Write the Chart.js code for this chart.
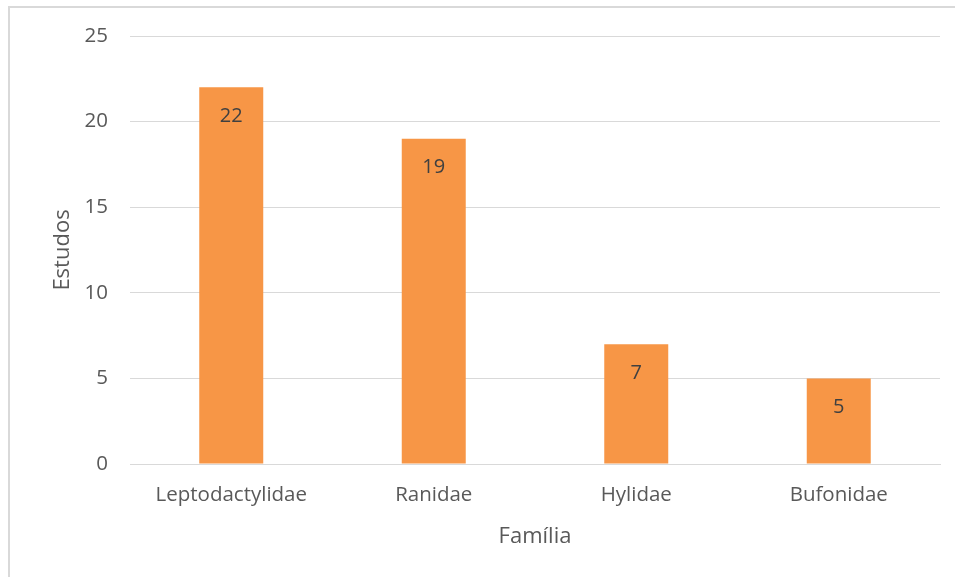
<!DOCTYPE html>
<html>
<head>
<meta charset="utf-8">
<script src="https://cdn.jsdelivr.net/npm/chart.js@4.4.1/dist/chart.umd.min.js"></script>
<style>
  html, body { margin: 0; padding: 0; background: #fff; }
  .frame {
    position: absolute; left: 8px; top: 6px; width: 960px; height: 600px;
    border-top: 2px solid #d9d9d9; border-left: 2px solid #d9d9d9;
  }
  .wrap { position: absolute; left: 0; top: 0; width: 955px; height: 577px; }
</style>
</head>
<body>
<div class="frame"></div>
<div class="wrap"><canvas id="chart"></canvas></div>
<script>
// Estudos por família de anuros
const familias = ['Leptodactylidae', 'Ranidae', 'Hylidae', 'Bufonidae'];
const estudos = [22, 19, 7, 5];
const yTicks = [0, 5, 10, 15, 20, 25];

const textColor = '#595959';
const fontFamily = '"Open Sans", sans-serif';

// value labels just inside the top of each bar
const barLabels = {
    id: 'barLabels',
    afterDatasetsDraw(chart) {
        const { ctx } = chart;
        const meta = chart.getDatasetMeta(0);
        ctx.save();
        ctx.font = '20px ' + fontFamily;
        ctx.fillStyle = '#404040';
        ctx.textAlign = 'center';
        ctx.textBaseline = 'middle';
        meta.data.forEach((bar, i) => {
            ctx.fillText(String(estudos[i]), bar.x, bar.y + 29);
        });
        ctx.restore();
    }
};

new Chart(document.getElementById('chart'), {
    type: 'bar',
    data: {
        labels: familias,
        datasets: [{
            data: estudos,
            backgroundColor: '#f79646',
            borderWidth: 0,
            categoryPercentage: 1,
            barPercentage: 0.316
        }]
    },
    options: {
        responsive: true,
        maintainAspectRatio: false,
        animation: false,
        layout: { padding: { left: 50, right: 15, top: 36, bottom: 27 } },
        plugins: { legend: { display: false }, tooltip: { enabled: false } },
        scales: {
            x: {
                grid: { display: false, drawTicks: false },
                border: { color: '#d9d9d9', width: 1 },
                ticks: { color: textColor, font: { family: fontFamily, size: 20.5 }, padding: 19, maxRotation: 0 },
                title: { display: true, text: 'Família', color: textColor, font: { family: fontFamily, size: 22 }, padding: 0 },
                afterFit(scale) { scale.height = 86; }
            },
            y: {
                min: 0,
                max: 25,
                afterBuildTicks(scale) { scale.ticks = yTicks.map(v => ({ value: v })); },
                grid: { color: '#d9d9d9', drawTicks: false },
                border: { display: false },
                ticks: { color: textColor, font: { family: fontFamily, size: 20.5 }, padding: 22 },
                title: { display: true, text: 'Estudos', color: textColor, font: { family: fontFamily, size: 22 }, padding: 0 },
                afterFit(scale) { scale.width = 80; }
            }
        }
    },
    plugins: [barLabels]
});
</script>
</body>
</html>
